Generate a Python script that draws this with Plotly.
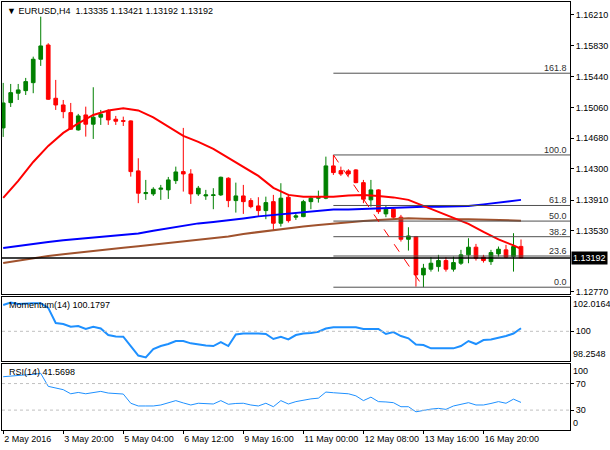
import plotly.graph_objects as go
from plotly.subplots import make_subplots

# ---- data (EURUSD H4, one candle per bar index) -----------------------------
bars = list(range(70))

open_ = [
    1.14807, 1.15121, 1.15238, 1.15270, 1.15369, 1.15660, 1.15837, 1.15175, 1.15092, 1.14997,
    1.14782, 1.14968, 1.14853, 1.14940, 1.15018, 1.14915, 1.14897, 1.14894, 1.14273, 1.13991,
    1.13987, 1.14045, 1.14037, 1.14152, 1.14264, 1.14235, 1.13987, 1.13962, 1.13968, 1.13975,
    1.14182, 1.13904, 1.13962, 1.13904, 1.13838, 1.13780, 1.13891, 1.13623, 1.13946, 1.13698,
    1.13705, 1.13891, 1.13934, 1.13934, 1.14335, 1.14276, 1.14273, 1.14285, 1.14127, 1.13913,
    1.14037, 1.13739, 1.13797, 1.13698, 1.13424, 1.13457, 1.12981, 1.13052, 1.13084, 1.13159,
    1.13052, 1.13126, 1.13230, 1.13325, 1.13201, 1.13146, 1.13242, 1.13292, 1.13208, 1.13335]
high = [
    1.15366, 1.15353, 1.15353, 1.15428, 1.15692, 1.16189, 1.15859, 1.15403, 1.15154, 1.15117,
    1.14981, 1.15071, 1.15312, 1.15030, 1.15039, 1.14956, 1.14947, 1.14900, 1.14430, 1.14161,
    1.14070, 1.14099, 1.14198, 1.14326, 1.14807, 1.14294, 1.14086, 1.14037, 1.14058, 1.14202,
    1.14194, 1.14127, 1.14099, 1.13934, 1.13946, 1.13953, 1.13975, 1.14120, 1.13987, 1.13747,
    1.13913, 1.13962, 1.14028, 1.14450, 1.14471, 1.14326, 1.14294, 1.14294, 1.14161, 1.14161,
    1.14045, 1.13838, 1.13809, 1.13726, 1.13573, 1.13465, 1.13118, 1.13201, 1.13230, 1.13201,
    1.13208, 1.13292, 1.13437, 1.13366, 1.13230, 1.13292, 1.13333, 1.13354, 1.13499, 1.13421]
low = [
    1.14695, 1.15067, 1.15154, 1.15216, 1.15238, 1.15577, 1.15154, 1.15030, 1.14927, 1.14782,
    1.14773, 1.14699, 1.14670, 1.14844, 1.14844, 1.14844, 1.14831, 1.14202, 1.13872, 1.13913,
    1.13962, 1.13913, 1.13925, 1.14111, 1.14016, 1.13863, 1.13962, 1.13913, 1.13797, 1.13962,
    1.13822, 1.13755, 1.13739, 1.13809, 1.13705, 1.13673, 1.13540, 1.13581, 1.13631, 1.13664,
    1.13698, 1.13797, 1.13879, 1.13921, 1.14223, 1.14211, 1.14211, 1.14120, 1.13872, 1.13829,
    1.13739, 1.13698, 1.13673, 1.13395, 1.13283, 1.12835, 1.12828, 1.13022, 1.13022, 1.13022,
    1.13022, 1.13105, 1.13126, 1.13159, 1.13134, 1.13105, 1.13208, 1.13188, 1.13022, 1.13192]
close = [
    1.15117, 1.15245, 1.15279, 1.15382, 1.15660, 1.15825, 1.15163, 1.15092, 1.15009, 1.14791,
    1.14956, 1.14853, 1.14940, 1.14977, 1.14906, 1.14890, 1.14890, 1.14264, 1.13996, 1.14003,
    1.14045, 1.14058, 1.14161, 1.14260, 1.14235, 1.13987, 1.14058, 1.13975, 1.13975, 1.14194,
    1.13904, 1.13962, 1.13891, 1.13829, 1.13780, 1.13879, 1.13623, 1.13934, 1.13655, 1.13714,
    1.13891, 1.13934, 1.13941, 1.14335, 1.14252, 1.14235, 1.14235, 1.14127, 1.13921, 1.14037,
    1.13767, 1.13797, 1.13698, 1.13424, 1.13465, 1.12981, 1.13064, 1.13126, 1.13159, 1.13052,
    1.13134, 1.13230, 1.13325, 1.13188, 1.13159, 1.13258, 1.13300, 1.13201, 1.13333, 1.13192]

# moving averages, read every second bar
ma_bars = list(range(0, 70, 2)) + [69]
ma_fast = [1.13937, 1.14148, 1.14384, 1.14583, 1.14745, 1.14863, 1.14968, 1.15024, 1.15051,
           1.15024, 1.14937, 1.14819, 1.14707, 1.14633, 1.14546, 1.14434, 1.14322, 1.14211,
           1.14062, 1.13975, 1.13953, 1.13950, 1.13953, 1.13968, 1.13975, 1.13962, 1.13944,
           1.13913, 1.13838, 1.13763, 1.13689, 1.13614, 1.13515, 1.13422, 1.13347, 1.13304]
ma_mid = [1.13316, 1.13341, 1.13372, 1.13391, 1.13410, 1.13428, 1.13441, 1.13459, 1.13478,
          1.13496, 1.13528, 1.13559, 1.13590, 1.13621, 1.13639, 1.13658, 1.13683, 1.13708,
          1.13726, 1.13745, 1.13767, 1.13782, 1.13794, 1.13794, 1.13801, 1.13813, 1.13822,
          1.13829, 1.13829, 1.13829, 1.13832, 1.13838, 1.13857, 1.13881, 1.13900, 1.13913]
ma_slow = [1.13130, 1.13161, 1.13188, 1.13217, 1.13238, 1.13260, 1.13279, 1.13300, 1.13319,
           1.13337, 1.13356, 1.13375, 1.13393, 1.13412, 1.13434, 1.13459, 1.13490, 1.13515,
           1.13540, 1.13559, 1.13581, 1.13602, 1.13621, 1.13639, 1.13652, 1.13664, 1.13677,
           1.13685, 1.13679, 1.13673, 1.13673, 1.13673, 1.13670, 1.13667, 1.13660, 1.13655]

momentum = [
    101.546, 101.681, 101.605, 101.634, 101.646, 101.646, 101.370, 100.488, 100.429, 100.271,
    100.312, 100.136, 100.271, 100.165, 99.783, 99.695, 99.683, 99.136, 98.578, 98.472,
    98.960, 99.136, 99.254, 99.430, 99.430, 99.295, 99.225, 99.166, 99.136, 99.372,
    99.136, 99.812, 99.871, 99.883, 99.871, 99.842, 99.548, 99.683, 99.530, 99.783,
    99.871, 99.901, 99.977, 100.165, 100.236, 100.236, 100.236, 100.236, 100.136, 100.136,
    100.136, 99.842, 99.959, 99.724, 99.589, 99.225, 99.195, 99.001, 99.001, 99.001,
    99.001, 99.136, 99.430, 99.254, 99.489, 99.518, 99.607, 99.724, 99.871, 100.1797]
rsi = [
    80.3, 81.5, 82.3, 83.1, 83.8, 85.4, 65.8, 63.1, 60.8, 54.6,
    56.6, 54.6, 56.2, 58.2, 55.7, 54.6, 54.2, 40.3, 36.2, 36.2,
    36.2, 37.7, 40.8, 44.3, 40.8, 37.7, 40.3, 39.2, 39.2, 44.3,
    38.8, 40.0, 40.3, 37.7, 36.2, 40.3, 35.1, 44.3, 39.2, 42.8,
    45.4, 46.9, 48.0, 57.2, 56.2, 55.7, 54.6, 51.5, 44.3, 49.5,
    42.8, 42.3, 41.2, 35.1, 35.1, 27.4, 30.0, 31.5, 32.6, 31.1,
    36.2, 38.5, 41.2, 37.7, 37.7, 40.0, 42.8, 40.3, 46.5, 41.5698]

# fibonacci retracement drawn from the 11 May high to the 13 May low
swing_hi, swing_lo = 44, 56
fib_ratios = [0.0, 23.6, 38.2, 50.0, 61.8, 100.0, 161.8]

x_ticks = [0, 8, 16, 24, 32, 40, 48, 56, 64]
x_labels = ["2 May 2016", "3 May 20:00", "5 May 04:00", "6 May 12:00", "9 May 16:00",
            "11 May 00:00", "12 May 08:00", "13 May 16:00", "16 May 20:00"]
price_ticks = [1.16210, 1.15830, 1.15440, 1.15060, 1.14680, 1.14300, 1.13910, 1.13530, 1.12770]
price_range = [1.12745, 1.16371]
mom_range = [98.2548, 102.0164]
rsi_range = [0, 100]
rsi_levels = [30, 70]
x_range = [-0.16, 75.53]

FONT = "Liberation Sans"
FS = 9
UP, DOWN = "#008000", "#ff0000"
NBSP = "\u00a0"

fig = make_subplots(rows=3, cols=1, shared_xaxes=True, vertical_spacing=0)

# main panel
fig.add_trace(go.Scatter(x=ma_bars, y=ma_slow, mode="lines",
                         line={"color": "#a0522d", "width": 2}), row=1, col=1)
fig.add_trace(go.Scatter(x=ma_bars, y=ma_mid, mode="lines",
                         line={"color": "#0000ff", "width": 2}), row=1, col=1)
fig.add_trace(go.Scatter(x=ma_bars, y=ma_fast, mode="lines",
                         line={"color": "#ff0000", "width": 2}), row=1, col=1)

hi, lo = high[swing_hi], low[swing_lo]
for r in fib_ratios:
    lvl = lo + r / 100 * (hi - lo)
    fig.add_trace(go.Scatter(x=[swing_hi, x_range[1]], y=[lvl, lvl], mode="lines",
                             line={"color": "#505050", "width": 1}), row=1, col=1)
    fig.add_annotation(text=f"{r:.1f}", xref="x domain", yref="y", x=1, y=lvl,
                       xanchor="right", yanchor="bottom", xshift=-1, yshift=-2,
                       showarrow=False, font={"size": FS, "color": "#303030"})
fig.add_trace(go.Scatter(x=[swing_hi, swing_lo], y=[hi, lo], mode="lines",
                         line={"color": "#ff0000", "width": 1, "dash": "dash"}), row=1, col=1)

fig.add_trace(go.Candlestick(
    x=bars, open=open_, high=high, low=low, close=close, whiskerwidth=0,
    increasing={"line": {"color": UP, "width": 1}, "fillcolor": UP},
    decreasing={"line": {"color": DOWN, "width": 1}, "fillcolor": DOWN},
), row=1, col=1)

fig.add_hline(y=close[-1], line={"color": "black", "width": 1.5}, row=1, col=1)

# indicator panels
fig.add_trace(go.Scatter(x=bars, y=momentum, mode="lines",
                         line={"color": "#1e90ff", "width": 2}), row=2, col=1)
fig.add_hline(y=100, line={"color": "#c0c0c0", "width": 1, "dash": "dot"}, row=2, col=1)

fig.add_trace(go.Scatter(x=bars, y=rsi, mode="lines",
                         line={"color": "#1e90ff", "width": 1}), row=3, col=1)
for lv in rsi_levels:
    fig.add_hline(y=lv, line={"color": "#c0c0c0", "width": 1, "dash": "dot"}, row=3, col=1)

# ---- texts ------------------------------------------------------------------
fig.add_annotation(text=f"\u25bc EURUSD,H4{NBSP}{NBSP}{open_[-1]:.5f} {high[-1]:.5f} "
                        f"{low[-1]:.5f} {close[-1]:.5f}",
                   xref="paper", yref="paper", x=0, y=1, xanchor="left", yanchor="top",
                   xshift=3, yshift=-2, showarrow=False)
fig.add_annotation(text=f"Momentum(14) {momentum[-1]:.4f}", xref="paper", yref="y2 domain",
                   x=0, y=1, xanchor="left", yanchor="top", xshift=5, yshift=-1,
                   showarrow=False)
fig.add_annotation(text=f"RSI(14) {rsi[-1]:.4f}", xref="paper", yref="y3 domain",
                   x=0, y=1, xanchor="left", yanchor="top", xshift=5, yshift=-1,
                   showarrow=False)
fig.add_annotation(text=f"{close[-1]:.5f}", xref="paper", yref="y", x=1, y=close[-1],
                   xanchor="left", xshift=1, showarrow=False, bgcolor="black",
                   font={"color": "white", "size": FS}, borderpad=1)

# MT4 prints the scale extremes just inside the panel edges
for ref, (bottom, top), fmt in (("y2", mom_range, "{:.4f}"), ("y3", rsi_range, "{:g}")):
    fig.add_annotation(text=fmt.format(top), xref="paper", yref=f"{ref} domain", x=1, y=1,
                       xanchor="left", yanchor="top", xshift=1, showarrow=False)
    fig.add_annotation(text=fmt.format(bottom), xref="paper", yref=f"{ref} domain", x=1, y=0,
                       xanchor="left", yanchor="bottom", xshift=1, showarrow=False)

# ---- layout -----------------------------------------------------------------
fig.update_layout(width=610, height=450, margin={"l": 2, "r": 40, "t": 2, "b": 20},
                  paper_bgcolor="white", plot_bgcolor="white", showlegend=False,
                  font={"family": FONT, "size": FS, "color": "black"})
fig.update_xaxes(range=x_range, showgrid=False, zeroline=False, showline=True,
                 linecolor="black", linewidth=1, mirror=True, rangeslider_visible=False,
                 automargin=False)
fig.update_xaxes(tickvals=x_ticks, ticktext=x_labels, ticks="outside", ticklen=3,
                 tickcolor="black", tickangle=0, ticklabelposition="outside right",
                 row=3, col=1)
fig.update_yaxes(side="right", showgrid=False, zeroline=False, showline=True,
                 linecolor="black", linewidth=1, mirror=True, ticks="outside",
                 ticklen=3, tickcolor="black", automargin=False)
fig.update_layout(
    yaxis={"domain": [0.318, 1.0], "range": price_range, "tickvals": price_ticks,
           "tickformat": ".5f"},
    yaxis2={"domain": [0.161, 0.311], "range": mom_range, "tickvals": [100]},
    yaxis3={"domain": [0.0, 0.155], "range": rsi_range, "tickvals": rsi_levels},
)

# the page body has a default 8px margin; drop it so the figure sits at 0,0
fig.write_html("out.html", config={"displayModeBar": False},
               post_script="document.body.style.margin = '0';")
